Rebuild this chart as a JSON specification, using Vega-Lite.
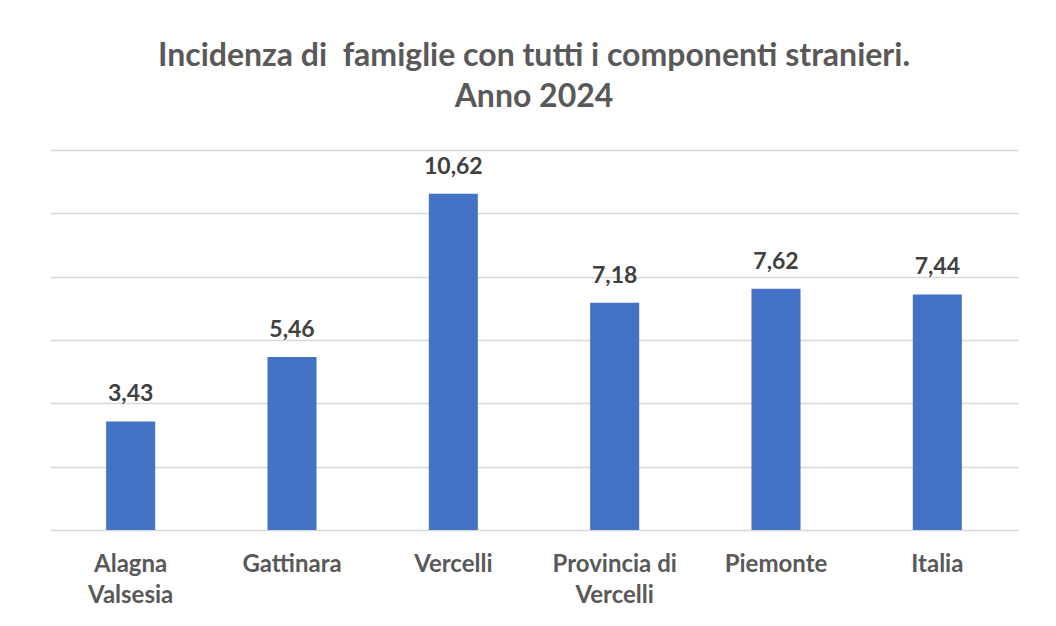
{
  "$schema": "https://vega.github.io/schema/vega-lite/v6.json",
  "width": 968,
  "height": 380,
  "autosize": "none",
  "padding": {"left": 50, "top": 150, "right": 38, "bottom": 96},
  "background": "white",
  "title": {
    "text": ["Incidenza di \u00a0famiglie con tutti i componenti stranieri.", "Anno 2024"],
    "font": "Lato",
    "fontSize": 32,
    "fontWeight": "bold",
    "color": "#595959",
    "anchor": "middle",
    "lineHeight": 41,
    "offset": 36
  },
  "config": {
    "view": {"stroke": null},
    "locale": {"number": {"decimal": ",", "thousands": ".", "grouping": [3], "currency": ["€", ""]}}
  },
  "data": {
    "values": [
      {"territorio": "Alagna Valsesia", "valore": 3.43},
      {"territorio": "Gattinara", "valore": 5.46},
      {"territorio": "Vercelli", "valore": 10.62},
      {"territorio": "Provincia di Vercelli", "valore": 7.18},
      {"territorio": "Piemonte", "valore": 7.62},
      {"territorio": "Italia", "valore": 7.44}
    ]
  },
  "encoding": {
    "x": {
      "field": "territorio",
      "type": "nominal",
      "sort": null,
      "scale": {"paddingInner": 0.696, "paddingOuter": 0.348},
      "axis": {
        "title": null,
        "labelAngle": 0,
        "labelFont": "Lato",
        "labelFontSize": 24,
        "labelFontWeight": "bold",
        "labelColor": "#595959",
        "labelPadding": 22,
        "labelLineHeight": 31,
        "labelBaseline": "top",
        "ticks": false,
        "domainColor": "#D9D9D9",
        "domainWidth": 1.5,
        "labelExpr": "datum.label == 'Alagna Valsesia' ? ['Alagna', 'Valsesia'] : datum.label == 'Provincia di Vercelli' ? ['Provincia di', 'Vercelli'] : datum.label"
      }
    },
    "y": {
      "field": "valore",
      "type": "quantitative",
      "scale": {"domain": [0, 12]},
      "axis": {
        "title": null,
        "values": [2, 4, 6, 8, 10, 12],
        "labels": false,
        "ticks": false,
        "domain": false,
        "gridColor": "#D9D9D9",
        "gridWidth": 1.5
      }
    }
  },
  "layer": [
    {"mark": {"type": "bar", "color": "#4472C4"}},
    {
      "mark": {
        "type": "text",
        "baseline": "alphabetic",
        "dy": -20,
        "font": "Lato",
        "fontSize": 23,
        "fontWeight": "bold",
        "color": "#404040"
      },
      "encoding": {"text": {"field": "valore", "type": "quantitative", "format": ".2f"}}
    }
  ]
}
